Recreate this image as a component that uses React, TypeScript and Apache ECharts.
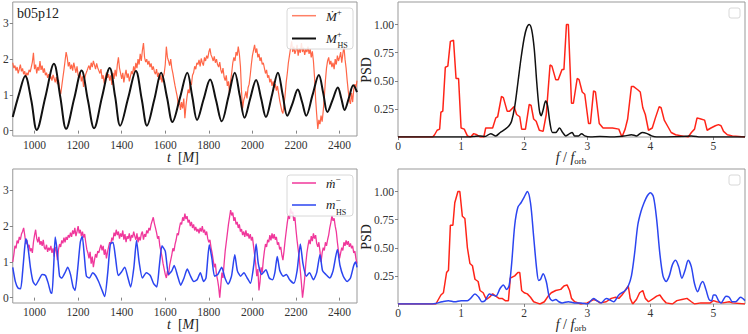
import React, { useEffect, useRef } from "react";
import * as echarts from "echarts";

const FONT = "Liberation Serif";

// ---------- time axis ----------
const T0 = 900;
const DT = 5;
const timeTicks = [1000, 1200, 1400, 1600, 1800, 2000, 2200, 2400];
const leftYTicks = [0, 1, 2, 3];
const freqTicks = [0, 1, 2, 3, 4, 5];
const psdTicks = [0.25, 0.5, 0.75, 1.0];

// Mdot+ (sampled every DT from T0)
const mdotPlus = [
  1.90,1.75,1.82,1.68,1.78,1.60,1.72,1.85,1.66,1.74,
  1.58,1.66,1.50,1.62,1.55,1.70,1.64,1.78,1.92,2.18,
  1.72,1.85,1.60,1.78,1.68,1.95,1.70,1.82,1.62,1.74,
  1.55,1.62,1.48,1.58,1.45,1.52,1.40,1.56,1.46,1.35,
  1.50,1.30,1.42,1.15,1.02,1.25,1.48,1.70,1.95,2.20,
  2.05,1.80,1.92,1.72,1.85,1.68,1.90,1.76,1.62,1.80,
  1.55,1.48,1.60,1.38,1.52,1.22,1.45,1.58,1.66,1.75,
  1.82,1.70,1.90,1.78,1.95,1.84,1.72,1.88,1.76,1.68,
  1.60,1.72,1.45,1.55,1.32,1.50,1.62,1.48,1.58,1.40,
  1.55,1.28,1.62,1.45,1.70,1.52,1.85,2.05,1.75,1.60,
  1.45,1.62,1.35,1.55,1.70,1.48,1.60,1.38,1.52,1.66,
  1.58,1.80,1.65,1.90,1.75,2.00,1.85,2.15,1.95,2.25,
  2.45,2.05,1.92,2.00,1.85,1.95,1.78,1.88,1.70,1.80,
  1.65,1.58,1.72,1.50,1.62,1.42,1.55,1.35,1.48,1.60,
  1.85,2.35,2.05,1.95,1.82,2.00,1.75,1.60,1.42,1.25,
  1.10,0.95,0.70,0.85,0.58,0.80,0.62,0.90,0.35,0.70,
  0.95,1.15,1.05,1.35,1.28,1.55,1.62,1.80,1.72,1.90,
  1.85,1.98,1.80,2.02,1.90,1.82,2.05,1.95,2.10,2.02,
  2.20,2.30,2.12,2.05,1.95,2.08,1.90,2.00,1.85,1.78,
  1.92,1.70,1.60,1.75,1.50,1.40,1.55,1.25,1.38,1.05,
  1.40,1.62,1.90,2.05,1.95,2.20,2.10,2.35,2.15,1.80,
  1.10,0.62,0.85,0.95,1.10,0.90,1.20,1.30,1.55,1.85,
  2.10,2.25,2.40,2.18,2.30,2.05,2.15,1.95,2.05,1.85,
  1.90,1.75,1.60,1.70,1.48,1.55,1.35,1.45,1.25,1.38,
  1.20,1.30,1.12,1.25,1.05,0.85,0.70,0.55,0.48,0.72,
  1.00,1.35,1.60,1.90,2.10,2.30,2.50,2.20,2.35,2.15,
  2.25,2.40,2.10,2.30,2.18,2.45,2.20,2.32,2.12,2.28,
  2.20,2.35,2.15,2.28,2.05,2.22,1.95,1.50,0.90,0.45,
  0.05,0.30,0.18,0.42,0.25,0.55,0.95,1.40,1.75,1.95,
  2.05,1.85,1.95,1.78,1.90,1.72,2.00,1.85,2.10,1.95,
  2.05,2.20,1.90,2.15,2.35,2.00,1.75,1.40,1.10,0.85,
  0.75,1.05,0.80,1.15,1.30,1.20,1.40,
];

// M_HS+
const tHsPlus = [
  900, 930, 957, 985, 1010, 1050, 1089, 1118, 1145, 1182, 1216, 1245, 1273, 1310, 1345, 1370,
  1393, 1430, 1465, 1492, 1516, 1550, 1581, 1608, 1633, 1668, 1701, 1724, 1746, 1776, 1806, 1833,
  1859, 1890, 1919, 1942, 1964, 1990, 2017, 2040, 2062, 2090, 2117, 2139, 2160, 2185, 2208, 2228,
  2247, 2276, 2305, 2325, 2344, 2368, 2392, 2408, 2423, 2443, 2463, 2480,
];
const mHsPlus = [
  0.38, 1.05, 1.53, 0.85, 0.02, 0.95, 1.87, 0.95, 0.05, 0.90, 1.68, 0.85, 0.07, 0.95, 1.75, 0.95,
  0.14, 0.92, 1.67, 0.88, 0.14, 0.88, 1.62, 0.93, 0.24, 0.93, 1.62, 0.95, 0.30, 0.88, 1.43, 0.85,
  0.26, 0.95, 1.62, 0.98, 0.36, 0.90, 1.42, 0.90, 0.38, 1.00, 1.62, 1.00, 0.42, 0.78, 1.15, 0.80,
  0.42, 1.00, 1.56, 1.05, 0.52, 0.86, 1.21, 0.90, 0.58, 0.92, 1.27, 1.08,
];

// mdot- (sampled every DT from T0)
const mdotMinus = [
  1.00,1.20,1.45,1.38,1.60,1.52,1.70,1.62,1.78,1.85,
  1.95,1.75,1.50,1.62,1.40,1.48,1.30,1.38,1.25,1.55,
  1.75,1.90,1.65,1.55,1.70,1.48,1.58,1.45,1.62,1.40,
  1.35,1.48,1.28,1.40,1.32,1.45,1.25,1.38,1.15,1.42,
  1.30,1.05,1.35,1.50,1.42,1.60,1.52,1.68,1.55,1.70,
  1.62,1.75,1.68,1.82,1.70,1.88,1.78,1.95,1.72,1.85,
  2.00,1.80,1.90,1.72,1.85,1.68,1.78,1.55,1.35,1.25,
  1.10,1.28,0.95,1.15,0.85,1.05,1.22,1.12,1.30,1.25,
  1.38,1.48,1.32,1.45,1.20,1.35,1.10,1.28,1.42,1.55,
  1.50,1.68,1.60,1.82,1.72,1.90,1.75,1.85,1.65,1.80,
  1.70,1.88,1.62,1.78,1.55,1.72,1.65,1.80,1.58,1.75,
  1.68,1.85,1.72,1.62,1.80,1.55,1.70,1.60,1.78,1.85,
  1.62,1.78,1.70,1.88,1.80,1.95,1.88,2.05,2.15,2.25,
  2.08,1.95,1.82,1.65,1.72,1.45,1.30,1.15,0.95,0.80,
  0.65,0.55,0.75,0.62,0.90,1.05,1.20,1.38,1.30,1.50,
  1.62,1.80,1.75,1.95,2.10,2.05,2.25,2.15,2.35,2.20,
  2.28,2.10,2.18,2.00,2.12,1.95,2.05,1.88,1.98,1.85,
  1.92,1.80,1.95,1.85,2.00,1.82,1.90,1.75,1.85,1.65,
  1.55,1.62,1.40,1.25,1.05,0.85,0.95,0.65,0.50,0.30,
  0.00,0.35,0.70,0.55,0.95,1.30,1.55,1.80,2.05,2.25,
  2.45,2.30,2.38,2.15,2.25,2.05,2.12,1.95,2.05,1.85,
  1.92,1.75,1.85,1.70,1.88,1.72,1.80,1.65,1.78,1.60,
  1.70,1.45,1.20,0.95,0.60,0.80,0.20,0.45,0.85,0.70,
  1.05,1.30,1.50,1.42,1.62,1.55,1.75,1.60,1.80,1.65,
  1.78,1.62,1.70,1.48,1.55,1.35,1.42,1.20,1.05,1.30,
  1.60,1.85,2.10,2.30,2.20,2.50,2.35,2.40,2.15,2.25,
  1.90,1.60,1.35,1.10,0.75,0.40,0.00,0.25,0.55,0.95,
  1.25,1.45,1.62,1.50,1.72,1.58,1.80,1.65,1.75,1.52,
  1.42,1.55,1.30,1.00,1.25,1.40,1.32,1.55,1.45,1.62,
  1.75,1.95,2.10,2.30,2.15,2.22,2.00,1.85,1.55,1.30,
  1.10,1.25,1.40,1.32,1.55,1.45,1.60,1.48,1.58,1.42,
  1.52,1.38,1.45,1.25,1.30,1.10,0.95,
];

// m_HS-
const tHsMinus = [
  900, 912, 924, 936, 945, 954, 960, 969, 981, 993, 1005, 1020, 1035, 1050, 1062, 1074, 1080, 1088,
  1095, 1104, 1115, 1125, 1140, 1152, 1165, 1177, 1186, 1198, 1210, 1219, 1228, 1238, 1252, 1267,
  1280, 1294, 1309, 1322, 1336, 1348, 1360, 1372, 1384, 1399, 1414, 1429, 1441, 1456, 1468, 1480,
  1495, 1513, 1531, 1546, 1561, 1573, 1585, 1600, 1615, 1630, 1641, 1656, 1671, 1686, 1701, 1716,
  1731, 1746, 1761, 1776, 1787, 1802, 1814, 1826, 1841, 1859, 1874, 1889, 1904, 1919, 1931, 1946,
  1961, 1976, 1991, 2006, 2017, 2027, 2042, 2062, 2077, 2092, 2103, 2114, 2126, 2141, 2156, 2171,
  2190, 2205, 2220, 2232, 2247, 2262, 2280, 2295, 2310, 2322, 2337, 2355, 2370, 2390, 2402, 2417,
  2435, 2450, 2465, 2474, 2480,
];
const mHsMinus = [
  0.85, 0.45, 0.27, 0.25, 0.70, 1.35, 1.65, 1.45, 0.85, 0.45, 0.35, 0.50, 0.65, 0.62, 0.42, 0.15, 0.12, 0.90,
  1.70, 1.30, 0.60, 0.55, 0.70, 0.85, 0.65, 0.30, 0.20, 0.80, 1.55, 1.72, 1.20, 0.60, 0.55, 0.70,
  0.62, 0.45, 0.22, 0.03, 0.70, 1.50, 1.55, 1.10, 0.62, 0.72, 0.85, 0.55, 0.30, 0.85, 1.60, 1.00,
  0.55, 0.70, 0.62, 0.40, 0.30, 0.90, 1.45, 1.30, 0.65, 0.75, 0.90, 0.62, 0.35, 0.55, 0.80, 0.60,
  0.45, 0.50, 0.70, 0.45, 0.55, 1.48, 1.10, 0.60, 0.65, 0.85, 0.55, 0.38, 0.60, 1.20, 0.75, 0.60,
  0.70, 0.55, 0.40, 0.90, 1.50, 0.95, 0.65, 0.78, 0.55, 0.50, 0.70, 1.15, 0.75, 0.60, 0.65, 0.50,
  0.40, 0.75, 1.50, 0.95, 0.60, 0.70, 0.50, 0.70, 1.20, 0.75, 0.65, 0.55, 0.75, 1.35, 0.90, 0.60,
  0.45, 0.55, 0.90, 1.00, 0.85,
];

// ---------- PSD panels ----------
const fRedTop = [
  0, 0.55, 0.58, 0.62, 0.66, 0.68, 0.71, 0.75, 0.79, 0.83, 0.88, 0.92, 0.96, 1.0, 1.05, 1.1, 1.15,
  1.2, 1.25, 1.3, 1.36, 1.39, 1.44, 1.5, 1.55, 1.58, 1.64, 1.67, 1.73, 1.77, 1.84, 1.88, 1.93, 1.96,
  2.02, 2.08, 2.11, 2.15, 2.19, 2.24, 2.3, 2.35, 2.41, 2.44, 2.5, 2.54, 2.6, 2.63, 2.67, 2.7, 2.75,
  2.78, 2.84, 2.87, 2.92, 2.96, 3.02, 3.05, 3.1, 3.13, 3.19, 3.25, 3.4, 3.5, 3.55, 3.6, 3.64, 3.7,
  3.73, 3.8, 3.84, 3.88, 3.92, 3.97, 4.03, 4.08, 4.14, 4.17, 4.22, 4.27, 4.33, 4.4, 4.5, 4.6, 4.65,
  4.7, 4.74, 4.8, 4.86, 4.9, 4.96, 5.03, 5.08, 5.12, 5.16, 5.22, 5.3, 5.5,
];
const psdRedTop = [
  0, 0, 0.02, 0.06, 0.07, 0.22, 0.23, 0.62, 0.63, 0.85, 0.86, 0.52, 0.52, 0.08, 0.07, 0.01, 0.0,
  0.03, 0.02, 0.0, 0.0, 0.08, 0.08, 0.08, 0.17, 0.18, 0.36, 0.35, 0.23, 0.23, 0.27, 0.2, 0.18, 0.07,
  0.07, 0.29, 0.28, 0.16, 0.14, 0.06, 0.05, 0.2, 0.64, 0.63, 0.51, 0.51, 0.6, 0.6, 1.0, 1.0, 0.3,
  0.3, 0.52, 0.51, 0.4, 0.38, 0.12, 0.12, 0.41, 0.4, 0.12, 0.08, 0.08, 0.07, 0.0, 0.07, 0.16, 0.45,
  0.45, 0.42, 0.4, 0.26, 0.2, 0.06, 0.08, 0.17, 0.27, 0.26, 0.15, 0.1, 0.04, 0.02, 0.01, 0.0, 0.04,
  0.07, 0.17, 0.16, 0.15, 0.06, 0.08, 0.1, 0.11, 0.1, 0.05, 0.02, 0.01, 0.0,
];

const fBlackTop = [
  0, 1.1, 1.2, 1.3, 1.38, 1.47, 1.55, 1.62, 1.7, 1.76, 1.8, 1.85, 1.9, 1.95, 2.0, 2.04, 2.08, 2.12,
  2.16, 2.2, 2.24, 2.27, 2.3, 2.34, 2.37, 2.41, 2.45, 2.5, 2.56, 2.61, 2.66, 2.72, 2.76, 2.8, 2.86,
  2.91, 2.96, 3.05, 3.2, 3.4, 3.6, 3.7, 3.78, 3.87, 3.95, 4.02, 4.1, 4.5, 4.65, 4.8, 5.5,
];
const psdBlackTop = [
  0, 0, 0.005, 0.01, 0.005, 0.03, 0.01, 0.04, 0.07, 0.1, 0.14, 0.27, 0.48, 0.7, 0.88, 0.97, 1.0, 0.95,
  0.78, 0.48, 0.24, 0.19, 0.24, 0.32, 0.28, 0.12, 0.04, 0.04, 0.08, 0.04, 0.01, 0.03, 0.04, 0.01, 0.01,
  0.03, 0.01, 0.0, 0.005, 0.0, 0.01, 0.02, 0.01, 0.04, 0.03, 0.01, 0.0, 0.005, 0.01, 0.0, 0,
];

const fRedBot = [
  0, 0.6, 0.62, 0.68, 0.72, 0.77, 0.8, 0.83, 0.87, 0.9, 0.95, 0.98, 1.02, 1.06, 1.1, 1.14, 1.18,
  1.22, 1.27, 1.3, 1.35, 1.4, 1.45, 1.5, 1.55, 1.6, 1.65, 1.7, 1.75, 1.78, 1.85, 1.9, 1.93, 1.96,
  2.0, 2.05, 2.1, 2.15, 2.2, 2.25, 2.32, 2.38, 2.43, 2.5, 2.58, 2.63, 2.68, 2.72, 2.75, 2.8, 2.9,
  3.0, 3.1, 3.15, 3.2, 3.3, 3.38, 3.45, 3.5, 3.55, 3.6, 3.65, 3.68, 3.72, 3.78, 3.83, 3.88, 3.92,
  3.97, 4.05, 4.1, 4.15, 4.2, 4.25, 4.35, 4.42, 4.5, 4.58, 4.65, 4.7, 4.8, 4.95, 5.0, 5.05, 5.15,
  5.25, 5.3, 5.5,
];
const psdRedBot = [
  0, 0, 0.02, 0.08, 0.1, 0.28, 0.3, 0.7, 0.7, 0.9, 1.0, 1.0, 0.78, 0.76, 0.5, 0.36, 0.34,
  0.22, 0.2, 0.12, 0.1, 0.04, 0.06, 0.09, 0.07, 0.05, 0.05, 0.03, 0.03, 0.23, 0.25, 0.28, 0.28, 0.12,
  0.1, 0.09, 0.06, 0.02, 0.01, 0.0, 0.02, 0.07, 0.1, 0.12, 0.13, 0.16, 0.17, 0.12, 0.05, 0.02, 0.0,
  0.01, 0.04, 0.03, 0.01, 0.02, 0.05, 0.06, 0.05, 0.08, 0.12, 0.16, 0.05, 0.0, 0.04, 0.1, 0.12, 0.05,
  0.02, 0.05, 0.07, 0.08, 0.04, 0.01, 0.0, 0.03, 0.04, 0.05, 0.02, 0.0, 0.01, 0.01, 0.03, 0.02, 0.01,
  0.02, 0.01, 0.0,
];

const fBlueBot = [
  0, 0.55, 0.6, 0.7, 0.8, 0.9, 1.0, 1.1, 1.15, 1.22, 1.28, 1.33, 1.38, 1.45, 1.5, 1.55, 1.62, 1.67,
  1.72, 1.76, 1.8, 1.85, 1.9, 1.95, 2.0, 2.05, 2.1, 2.15, 2.2, 2.23, 2.26, 2.3, 2.35, 2.4, 2.45, 2.5,
  2.55, 2.6, 2.7, 2.8, 2.9, 3.0, 3.1, 3.15, 3.22, 3.3, 3.38, 3.42, 3.5, 3.6, 3.65, 3.7, 3.75, 3.8,
  3.85, 3.9, 3.95, 4.0, 4.05, 4.1, 4.15, 4.2, 4.25, 4.3, 4.35, 4.4, 4.45, 4.5, 4.55, 4.6, 4.65, 4.7,
  4.75, 4.8, 4.83, 4.88, 4.93, 4.97, 5.0, 5.03, 5.08, 5.12, 5.2, 5.25, 5.3, 5.35, 5.43, 5.5,
];
const psdBlueBot = [
  0, 0, 0.005, 0.02, 0.03, 0.02, 0.03, 0.03, 0.05, 0.09, 0.06, 0.02, 0.03, 0.09, 0.08, 0.07, 0.14, 0.17,
  0.13, 0.16, 0.35, 0.7, 0.86, 0.9, 0.95, 1.0, 0.9, 0.6, 0.3, 0.21, 0.22, 0.27, 0.2, 0.06, 0.03, 0.04,
  0.02, 0.01, 0.02, 0.01, 0.01, 0.0, 0.05, 0.03, 0.01, 0.05, 0.03, 0.02, 0.08, 0.12, 0.16, 0.25, 0.45, 0.7,
  0.82, 0.9, 0.96, 0.99, 0.95, 0.75, 0.45, 0.25, 0.2, 0.25, 0.35, 0.39, 0.33, 0.23, 0.3, 0.39, 0.33, 0.18,
  0.11, 0.18, 0.2, 0.13, 0.04, 0.03, 0.08, 0.08, 0.03, 0.01, 0.07, 0.06, 0.02, 0.02, 0.06, 0.03,
];

const zip = (xs: number[], ys: number[]) => xs.map((x, i) => [x, ys[i]]);
const sampled = (ys: number[]) => ys.map((y, i) => [T0 + DT * i, y]);

const GRIDS = [
  { left: 11, top: 2, width: 346, height: 134 },
  { left: 398, top: 2, width: 347, height: 135 },
  { left: 11, top: 169, width: 346, height: 134 },
  { left: 398, top: 169, width: 347, height: 135 },
];

const tickRich = { a: { fontFamily: FONT, fontSize: 11.5, color: "#333" } };
const tickStyle = { show: true, length: 3, lineStyle: { color: "#666", width: 0.8 } };
const plain = (v: number) => `{a|${v}}`;
const fixed2 = (v: number) => `{a|${v.toFixed(2)}}`;

const baseLabel = { fontFamily: FONT, fontSize: 11.5, color: "#333", rich: tickRich };

const timeAxis = (gi: number) => ({
  type: "value", gridIndex: gi, min: 900, max: 2480,
  axisLine: { show: false }, splitLine: { show: false },
  axisTick: { ...tickStyle, customValues: timeTicks },
  axisLabel: { ...baseLabel, margin: 3, customValues: timeTicks, formatter: plain },
});
const leftYAxis = (gi: number) => ({
  type: "value", gridIndex: gi, min: -0.15, max: 3.6,
  axisLine: { show: false }, splitLine: { show: false },
  axisTick: { ...tickStyle, customValues: leftYTicks },
  axisLabel: { ...baseLabel, margin: 4, customValues: leftYTicks, formatter: plain },
});
const freqAxis = (gi: number) => ({
  type: "value", gridIndex: gi, min: 0, max: 5.5,
  axisLine: { show: false }, splitLine: { show: false },
  axisTick: { ...tickStyle, customValues: freqTicks },
  axisLabel: { ...baseLabel, margin: 3, customValues: freqTicks, formatter: plain },
});
const psdAxis = (gi: number) => ({
  type: "value", gridIndex: gi, min: 0, max: 1.2,
  axisLine: { show: false }, splitLine: { show: false },
  axisTick: { ...tickStyle, customValues: psdTicks },
  axisLabel: { ...baseLabel, margin: 4, customValues: psdTicks, formatter: fixed2 },
});

const rich = {
  i: { fontFamily: FONT, fontStyle: "italic", fontSize: 14, color: "#222" },
  r: { fontFamily: FONT, fontSize: 14, color: "#222" },
  li: { fontFamily: FONT, fontStyle: "italic", fontSize: 13, color: "#222" },
  sup: { fontFamily: FONT, fontSize: 9, color: "#222", padding: [0, 0, 9, 0] },
  sub: { fontFamily: FONT, fontSize: 8, color: "#222", padding: [8, 0, 0, 0] },
  sube: { fontFamily: FONT, fontSize: 9, color: "#222", padding: [7, 0, 0, 0] },
};

const lineSeries = (xi: number, data: number[][], color: string, width: number, smooth: number | boolean, opacity = 1) => ({
  type: "line", xAxisIndex: xi, yAxisIndex: xi, data, showSymbol: false, symbol: "none",
  smooth, lineStyle: { color, width, opacity }, itemStyle: { color }, silent: true,
});

const ORANGE = "#ff5533";
const MAGENTA = "#f0379b";
const BLUE = "#2b45f0";
const RED = "#ff2418";

const legendBox = (y: number) => ({
  type: "rect", z: 100, shape: { x: 287, y, width: 66, height: 41, r: 3 },
  style: { fill: "rgba(255,255,255,0.85)", stroke: "#d8d8d8", lineWidth: 1 },
});
const legendLine = (y: number, color: string, width: number, opacity = 1) => ({
  type: "line", z: 101, shape: { x1: 292, y1: y, x2: 316, y2: y },
  style: { stroke: color, lineWidth: width, opacity },
});
const txt = (x: number, y: number, text: string, extra: any = {}) => ({
  type: "text", z: 101, x, y,
  style: { text, rich, align: "left", verticalAlign: "middle", fill: "#222", fontFamily: FONT, fontSize: 14, ...extra },
});

const option = {
  animation: false,
  backgroundColor: "#fff",
  textStyle: { fontFamily: FONT },
  grid: GRIDS.map((g) => ({ ...g, show: true, borderColor: "#999", borderWidth: 1, backgroundColor: "transparent" })),
  xAxis: [timeAxis(0), freqAxis(1), timeAxis(2), freqAxis(3)],
  yAxis: [leftYAxis(0), psdAxis(1), leftYAxis(2), psdAxis(3)],
  series: [
    lineSeries(0, sampled(mdotPlus), ORANGE, 1.2, false, 0.9),
    lineSeries(0, zip(tHsPlus, mHsPlus), "#111", 2, 0.35),
    lineSeries(1, zip(fRedTop, psdRedTop), RED, 1.5, false),
    lineSeries(1, zip(fBlackTop, psdBlackTop), "#111", 1.5, 0.3),
    lineSeries(2, sampled(mdotMinus), MAGENTA, 1.3, false),
    lineSeries(2, zip(tHsMinus, mHsMinus), BLUE, 1.5, 0.2),
    lineSeries(3, zip(fRedBot, psdRedBot), RED, 1.5, false),
    lineSeries(3, zip(fBlueBot, psdBlueBot), BLUE, 1.5, 0.3),
  ],
  graphic: [
    txt(17, 13, "b05p12", { fontSize: 14 }),
    // top-left legend
    legendBox(8),
    legendLine(15.7, ORANGE, 1.5, 0.75),
    legendLine(38.5, "#111", 2),
    txt(326, 16, "{li|Ṁ}{sup|+}"),
    txt(326, 38, "{li|M}{sup|+}"),
    txt(337.5, 41, "{sub|HS}"),
    // bottom-left legend
    legendBox(175),
    legendLine(183, MAGENTA, 1.5),
    legendLine(205, BLUE, 1.5),
    txt(326, 183, "{li|ṁ}{sup|−}"),
    txt(326, 204.5, "{li|m}{sup|−}"),
    txt(336, 208, "{sub|HS}"),
    // empty legends on PSD panels
    { type: "rect", z: 100, shape: { x: 729, y: 8, width: 11, height: 10, r: 2 }, style: { fill: "#fff", stroke: "#d8d8d8", lineWidth: 1 } },
    { type: "rect", z: 100, shape: { x: 729, y: 175, width: 11, height: 10, r: 2 }, style: { fill: "#fff", stroke: "#d8d8d8", lineWidth: 1 } },
    // axis titles
    txt(183, 157, "{i|t}{r|  [}{i|M}{r|]}", { align: "center" }),
    txt(183, 324, "{i|t}{r|  [}{i|M}{r|]}", { align: "center" }),
    txt(571, 157, "{i|f}{r| / }{i|f}{sube|orb}", { align: "center" }),
    txt(571, 324, "{i|f}{r| / }{i|f}{sube|orb}", { align: "center" }),
    { type: "text", z: 101, x: 366, y: 70, rotation: Math.PI / 2,
      style: { text: "PSD", align: "center", verticalAlign: "middle", fill: "#222", fontFamily: FONT, fontSize: 14 } },
    { type: "text", z: 101, x: 366, y: 237, rotation: Math.PI / 2,
      style: { text: "PSD", align: "center", verticalAlign: "middle", fill: "#222", fontFamily: FONT, fontSize: 14 } },
  ],
};

export default function App() {
  const ref = useRef<HTMLDivElement>(null);
  useEffect(() => {
    const chart = echarts.init(ref.current as HTMLDivElement, undefined, { renderer: "svg" });
    chart.setOption(option as any);
    return () => chart.dispose();
  }, []);
  return (
    <div
      ref={ref}
      style={{ position: "fixed", left: 0, top: 0, width: 748, height: 334, background: "#fff" }}
    />
  );
}
